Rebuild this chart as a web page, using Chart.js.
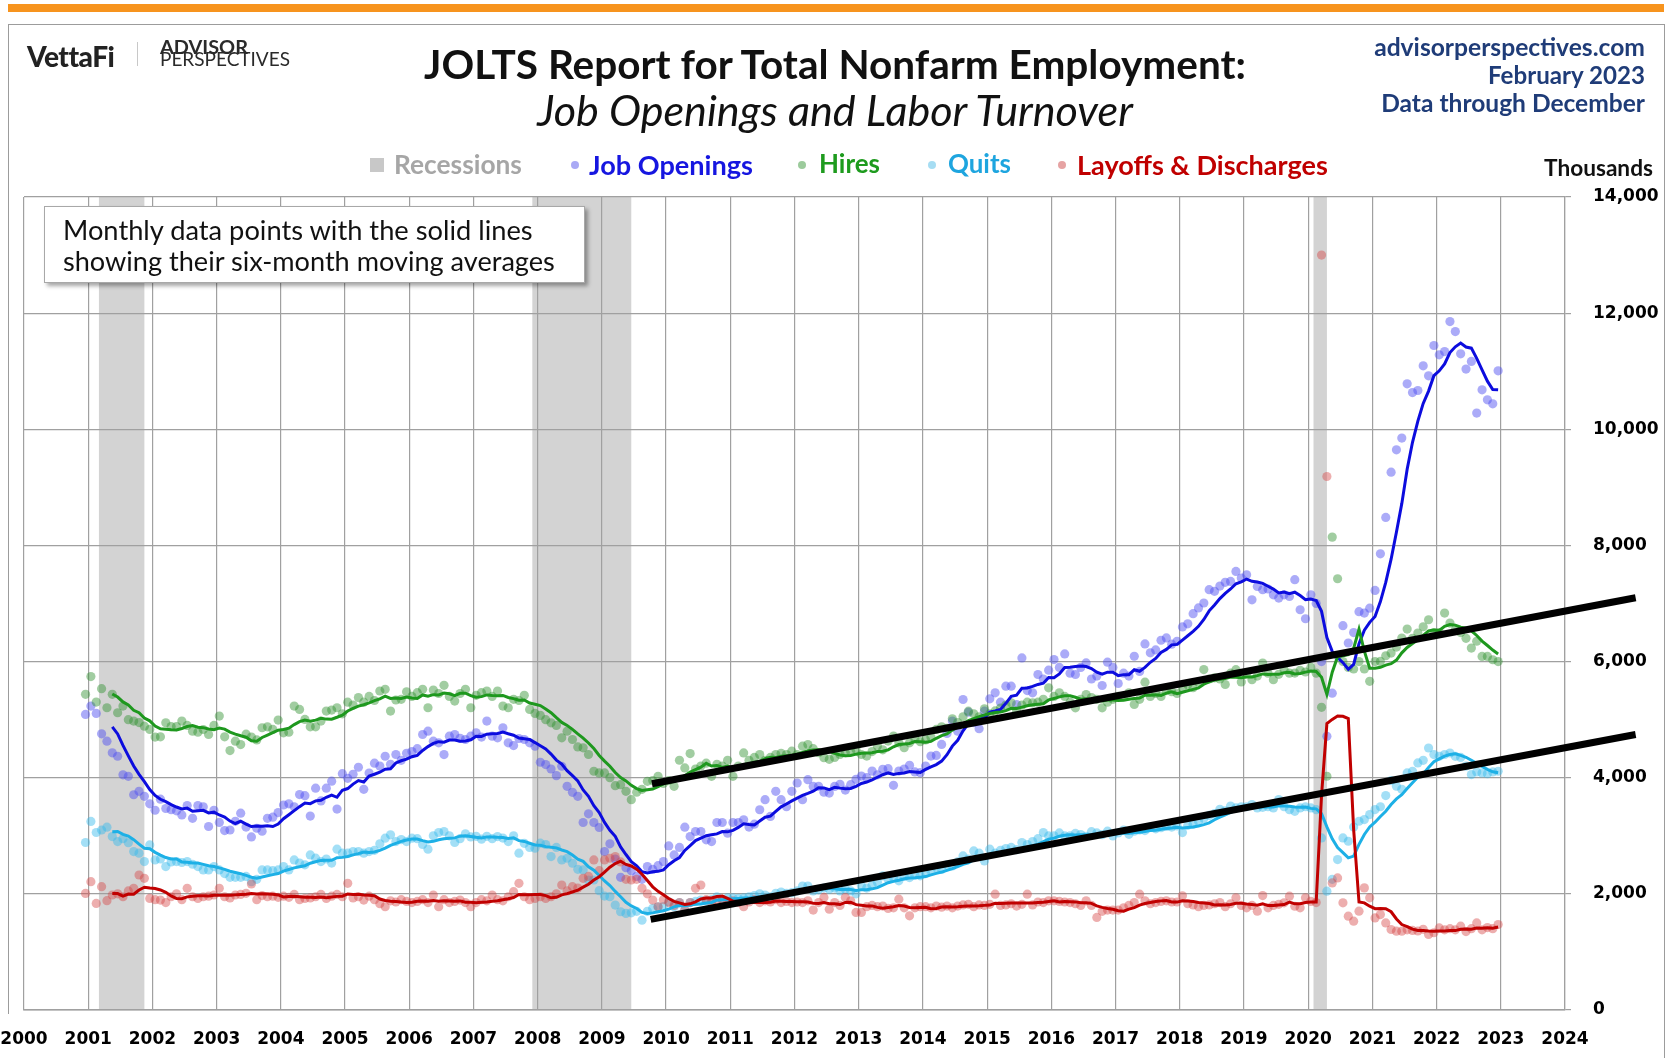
<!DOCTYPE html>
<html>
<head>
<meta charset="utf-8">
<script src="https://cdn.jsdelivr.net/npm/chart.js@4.4.1/dist/chart.umd.min.js"></script>
<style>
html,body{margin:0;padding:0;background:#fff;}
#wrap{position:relative;width:1673px;height:1058px;overflow:hidden;background:#fff;}
#c{position:absolute;left:0;top:0;}
.t{position:absolute;left:0;top:0;white-space:nowrap;line-height:1;font-family:Lato,"Open Sans",sans-serif;font-size:20px;}
</style>
</head>
<body>
<div id="wrap">
  <div style="position:absolute;left:8px;top:4px;width:1656px;height:8px;background:#F7941E"></div>
  <div style="position:absolute;left:8px;top:24px;width:1656px;height:1px;background:#9c9c9c"></div>
  <div style="position:absolute;left:8px;top:24px;width:1px;height:990px;background:#9c9c9c"></div>
  <div style="position:absolute;left:1664px;top:24px;width:1px;height:1034px;background:#9c9c9c"></div>
  <canvas id="c" width="1673" height="1058"></canvas>

  <span class="t" id="vetta" style="font-weight:900;color:#222;letter-spacing:-0.5px">VettaFi</span>
  <div style="position:absolute;left:137px;top:42px;width:1px;height:24px;background:#c8c8c8"></div>
  <span class="t" id="advisor" style="font-weight:700;color:#2a2a2a">ADVISOR</span>
  <span class="t" id="persp" style="font-weight:400;color:#2a2a2a">PERSPECTIVES</span>

  <span class="t" id="title" style="font-weight:700;color:#111">JOLTS Report for Total Nonfarm Employment:</span>
  <span class="t" id="subtitle" style="font-style:italic;color:#111">Job Openings and Labor Turnover</span>

  <span class="t" id="site" style="font-weight:700;color:#1F3C78">advisorperspectives.com</span>
  <span class="t" id="date" style="font-weight:700;color:#1F3C78">February 2023</span>
  <span class="t" id="thru" style="font-weight:700;color:#1F3C78">Data through December</span>

  <div style="position:absolute;left:370px;top:158px;width:14px;height:14px;background:#C8C8C8"></div>
  <span class="t" id="lgRec" style="font-weight:700;color:#A6A6A6">Recessions</span>
  <div style="position:absolute;left:571px;top:161px;width:8px;height:8px;border-radius:50%;background:#A9A9F5"></div>
  <span class="t" id="lgJO" style="font-weight:700;color:#1616E0">Job Openings</span>
  <div style="position:absolute;left:798px;top:161px;width:8px;height:8px;border-radius:50%;background:#9CCB9C"></div>
  <span class="t" id="lgH" style="font-weight:700;color:#1E9B1E">Hires</span>
  <div style="position:absolute;left:928px;top:161px;width:8px;height:8px;border-radius:50%;background:#A6DDF3"></div>
  <span class="t" id="lgQ" style="font-weight:700;color:#1EA5DF">Quits</span>
  <div style="position:absolute;left:1058px;top:161px;width:8px;height:8px;border-radius:50%;background:#E6A3A3"></div>
  <span class="t" id="lgL" style="font-weight:700;color:#C00000">Layoffs &amp; Discharges</span>

  <span class="t" id="thous" style="font-weight:700;color:#111">Thousands</span>

  <div style="position:absolute;left:44px;top:206px;width:541px;height:77px;box-sizing:border-box;background:#fff;border:1px solid #A8A8A8;box-shadow:3px 3px 4px rgba(0,0,0,0.35)"></div>
  <span class="t" id="note1" style="color:#111">Monthly data points with the solid lines</span>
  <span class="t" id="note2" style="color:#111">showing their six-month moving averages</span>
</div>

<script>
// ---------------- DATA (thousands) ----------------
// Monthly observations starting December 2000 and ending December 2022
const firstYear = 2000;
const firstMonth = 12;

const jobOpenings = [
  5090,
  5234,5107,4756,4629,4428,4370,4050,4024,3707,3765,3679,3550,
  3440,3630,3470,3450,3430,3360,3520,3300,3520,3500,3160,3440,
  3230,3090,3100,3250,3390,3150,2980,3130,3080,3300,3320,3400,
  3530,3550,3500,3710,3690,3340,3820,3600,3820,3940,3460,4070,
  3990,4060,4180,3800,4080,4250,4200,4370,4230,4400,4300,4420,
  4450,4500,4744,4802,4630,4600,4399,4716,4744,4680,4658,4716,
  4773,4700,4975,4716,4687,4860,4600,4554,4675,4658,4600,4543,
  4266,4226,4150,4036,4197,3852,3748,3679,3229,3379,3229,3143,
  2728,2861,2600,2285,2450,2400,2300,2250,2469,2420,2486,2555,
  2826,2670,2800,3149,2987,3074,3074,2930,2901,3229,3229,3045,
  3229,3229,3275,3150,3200,3448,3621,3333,3765,3621,3500,3765,
  3909,3621,3967,3850,3852,3750,3736,3850,3886,3788,3880,3972,
  4029,4000,4115,4050,4144,4155,3869,4115,4150,4213,4100,4087,
  4200,4373,4384,4573,4763,4975,4800,5347,5129,4950,4843,5146,
  5358,5462,5300,5576,5576,5261,6063,5500,5462,5777,5700,5851,
  6035,5900,6132,5800,5777,5900,5977,5700,5750,5588,5989,5900,
  5622,5800,5750,6092,5830,6304,6150,6200,6367,6407,6300,6350,
  6596,6650,6825,6923,7009,7238,7209,7300,7364,7380,7552,7437,
  7495,7064,7294,7237,7250,7150,7093,7150,7122,7410,6892,6737,
  7150,7000,6000,4713,5455,6100,6618,6320,6500,6860,6835,6920,
  7225,7856,8482,9262,9647,9848,10783,10633,10668,11093,10921,11443,
  11283,11339,11855,11683,11300,11037,11168,10279,10680,10508,10439,11007
];

const hires = [
  5436,
  5741,5303,5533,5205,5436,5119,5234,5000,4975,4950,4888,4831,
  4700,4704,4946,4880,4880,4975,4900,4802,4785,4830,4744,4900,
  5061,4704,4468,4629,4571,4750,4700,4650,4860,4877,4831,4992,
  4773,4785,5234,5176,5003,4877,4877,4975,5147,5165,5205,5100,
  5300,5250,5380,5300,5400,5330,5493,5522,5147,5338,5350,5480,
  5400,5464,5522,5205,5510,5450,5591,5400,5320,5450,5522,5205,
  5418,5464,5493,5400,5493,5234,5205,5350,5330,5418,5176,5107,
  5073,5000,4946,4900,4687,4800,4658,4531,4514,4400,4111,4082,
  4082,4000,3863,3880,3765,3621,3750,3800,3938,3950,4024,3900,
  3950,3852,4301,4168,4416,4150,4200,4250,4024,4230,4200,4300,
  4024,4200,4427,4300,4350,4399,4300,4350,4400,4420,4400,4457,
  4400,4543,4571,4500,4430,4344,4316,4350,4401,4430,4450,4487,
  4400,4373,4450,4545,4480,4631,4717,4600,4516,4600,4671,4620,
  4650,4700,4831,4877,4850,5015,4950,5050,5146,5100,5050,5186,
  5100,5150,5200,5250,5290,5150,5250,5300,5290,5301,5350,5548,
  5400,5462,5400,5300,5204,5350,5433,5380,5350,5204,5300,5350,
  5400,5400,5462,5261,5350,5645,5400,5450,5400,5500,5480,5450,
  5550,5600,5550,5650,5863,5700,5720,5700,5605,5800,5861,5650,
  5800,5687,5750,5974,5800,5687,5780,5859,5800,5802,5850,5820,
  5900,5800,5212,4025,8143,7426,6000,5900,5872,6000,5872,5660,
  6000,6003,6100,6146,6250,6404,6559,6400,6490,6600,6720,6500,
  6500,6835,6663,6550,6500,6400,6232,6350,6089,6089,6031,6000
];

const quits = [
  2884,
  3247,3057,3100,3149,2987,2901,2950,2880,2728,2700,2556,2843,
  2584,2600,2469,2550,2556,2540,2556,2510,2470,2412,2412,2469,
  2412,2350,2285,2285,2285,2300,2210,2250,2412,2412,2400,2412,
  2469,2412,2584,2530,2500,2671,2614,2556,2600,2530,2769,2700,
  2700,2728,2728,2700,2728,2750,2861,2959,3016,2900,2935,2901,
  2959,2950,2850,2769,2999,3057,3074,3000,2884,2950,3034,2980,
  2990,2941,2990,2950,2987,2960,2900,2999,2700,2870,2800,2786,
  2872,2850,2642,2800,2584,2613,2527,2423,2412,2239,2239,2055,
  1962,1951,1807,1692,1663,1674,1700,1547,1700,1750,1778,1780,
  1864,1780,1850,1720,1850,1870,1893,1880,1900,1950,1900,1930,
  1930,1922,1930,1950,1970,2000,1980,1950,2010,2030,2008,2020,
  2050,2135,2135,2050,2070,2100,2080,2100,2050,2080,2050,2000,
  2138,2100,2150,2200,2310,2250,2280,2224,2300,2280,2320,2310,
  2350,2400,2453,2420,2500,2480,2550,2654,2600,2740,2700,2568,
  2769,2700,2750,2780,2800,2760,2883,2850,2900,2950,3055,2998,
  3000,3050,2998,3000,3040,3020,2990,3070,3050,3020,3080,2998,
  3050,3100,3026,3080,3100,3090,3150,3120,3140,3160,3150,3170,
  3055,3180,3200,3250,3296,3350,3380,3456,3430,3513,3480,3500,
  3500,3537,3480,3490,3500,3480,3623,3500,3450,3422,3480,3500,
  3480,3450,2963,2046,2250,2590,2963,2906,3150,3250,3279,3365,
  3451,3500,3692,3950,3853,3800,4082,4111,4254,4300,4512,4398,
  4369,4400,4426,4369,4350,4200,4054,4100,4082,4070,4100,4111
];

const layoffs = [
  2008,
  2210,1836,2124,1882,1980,2000,1950,2050,2095,2325,2268,1922,
  1900,1893,1850,1950,2000,1900,2095,1950,1920,1950,1960,1980,
  2095,1950,1930,1980,1990,2010,2170,1900,1970,1950,1960,1940,
  1960,1940,1990,1900,1920,1930,1950,1990,1920,1960,1990,1950,
  2181,1930,1950,1893,1960,1900,1830,1778,1880,1860,1900,1870,
  1850,1870,1900,1850,1980,1778,1900,1850,1870,1893,1850,1778,
  1850,1900,1880,1980,1900,1880,1950,2037,2181,1950,1900,1922,
  1950,1920,1950,2000,2152,2050,2124,2100,2268,2300,2584,2400,
  2584,2613,2642,2550,2250,2239,2250,2095,2000,1893,1778,1900,
  1850,1800,1850,1720,1850,2095,2152,1900,1850,1880,1900,1850,
  1880,1850,1778,1860,1900,1850,1880,1860,1900,1850,1870,1850,
  1860,1850,1880,1720,1850,1938,1737,1850,1800,1938,1880,1680,
  1680,1780,1800,1780,1790,1750,1760,1909,1760,1622,1760,1780,
  1780,1760,1790,1770,1790,1760,1790,1810,1820,1780,1810,1800,
  1820,1995,1800,1810,1830,1790,1820,1995,1810,1860,1850,1880,
  1880,1870,1860,1850,1830,1800,1880,1800,1594,1700,1720,1720,
  1720,1760,1800,1850,1995,1880,1830,1850,1870,1880,1860,1860,
  1966,1830,1810,1780,1800,1810,1830,1850,1780,1830,1931,1800,
  1760,1800,1701,1971,1759,1800,1820,1845,1960,1787,1759,1931,
  1870,1850,13000,9187,2189,2275,1845,1615,1529,1701,2103,1931,
  1586,1644,1500,1386,1357,1357,1380,1370,1360,1390,1300,1330,
  1414,1380,1400,1380,1443,1350,1400,1500,1380,1420,1400,1472
];

// NBER recessions (decimal years)
const recessionStarts = [2001.167, 2007.917, 2020.083];
const recessionEnds   = [2001.875, 2009.458, 2020.292];

// Hand-drawn trend lines in the original (decimal year, thousands)
const trendUpperX = [2009.78, 2025.10];
const trendUpperY = [3895, 7100];
const trendLowerX = [2009.76, 2025.10];
const trendLowerY = [1560, 4745];

const maWindow = 6;

// ---------------- BUILD ----------------
function monthX(i) {
  const idx = firstMonth - 1 + i;
  const y = firstYear + Math.floor(idx / 12);
  const m = idx % 12;
  return y + (m + 0.5) / 12;
}
function toPoints(arr) { return arr.map((v, i) => ({x: monthX(i), y: v})); }
function movingAvg(arr) {
  return arr.map((v, i) => {
    if (i < maWindow - 1) return {x: monthX(i), y: null};
    let s = 0;
    for (let k = i - maWindow + 1; k <= i; k++) s += arr[k];
    return {x: monthX(i), y: s / maWindow};
  });
}
function pair(xs, ys) { return xs.map((x, i) => ({x: x, y: ys[i]})); }

const series = [
  {name: 'Job Openings', data: jobOpenings, dot: 'rgba(80,80,240,0.48)', line: '#0C0CDE'},
  {name: 'Hires', data: hires, dot: 'rgba(50,145,50,0.46)', line: '#1E981E'},
  {name: 'Quits', data: quits, dot: 'rgba(55,185,235,0.46)', line: '#1DB0E6'},
  {name: 'Layoffs & Discharges', data: layoffs, dot: 'rgba(215,70,70,0.44)', line: '#C00000'}
];

const datasets = [];
datasets.push({label: 'trendU', data: pair(trendUpperX, trendUpperY), borderColor: '#000', borderWidth: 7,
  pointRadius: 0, clip: false, order: 0, borderCapStyle: 'butt'});
datasets.push({label: 'trendL', data: pair(trendLowerX, trendLowerY), borderColor: '#000', borderWidth: 7,
  pointRadius: 0, clip: false, order: 0, borderCapStyle: 'butt'});
series.forEach((s, k) => {
  datasets.push({label: s.name + ' MA', data: movingAvg(s.data), borderColor: s.line, borderWidth: 3,
    pointRadius: 0, spanGaps: false, order: 4 - k});
});
series.forEach((s, k) => {
  datasets.push({label: s.name, data: toPoints(s.data), showLine: false, pointRadius: 4.6,
    pointBackgroundColor: s.dot, pointBorderWidth: 0, pointBorderColor: 'rgba(0,0,0,0)', order: 20 - k});
});

const recessionPlugin = {
  id: 'recessions',
  beforeDraw(chart) {
    const {ctx, chartArea, scales} = chart;
    const x = scales.x;
    ctx.save();
    ctx.fillStyle = '#D3D3D3';
    recessionStarts.forEach((s, i) => {
      const x0 = x.getPixelForValue(s), x1 = x.getPixelForValue(recessionEnds[i]);
      ctx.fillRect(x0, chartArea.top, x1 - x0, chartArea.bottom - chartArea.top);
    });
    ctx.restore();
  }
};

const tickFont = {family: 'DejaVu Sans', weight: 'bold', size: 17};
new Chart(document.getElementById('c'), {
  type: 'line',
  data: {datasets: datasets},
  options: {
    responsive: false,
    animation: false,
    devicePixelRatio: 1,
    layout: {padding: {left: 24, top: 197, right: 0, bottom: 8}},
    plugins: {legend: {display: false}, tooltip: {enabled: false}},
    elements: {line: {tension: 0}},
    scales: {
      x: {
        type: 'linear', min: 2000, max: 2024,
        ticks: {stepSize: 1, autoSkip: false, maxRotation: 0, color: '#000', font: tickFont, padding: 19,
          callback: v => String(v)},
        grid: {color: '#A0A0A0', lineWidth: 1.2, drawTicks: false},
        border: {color: '#A0A0A0', width: 1.5},
        afterFit: s => { s.height = 40; s.paddingLeft = 0; s.paddingRight = 0; }
      },
      y: {
        position: 'right', min: 0, max: 14000,
        ticks: {stepSize: 2000, color: '#000', font: tickFont, padding: 22,
          callback: v => v.toLocaleString('en-US')},
        grid: {color: '#A0A0A0', lineWidth: 1.2, tickLength: 6},
        border: {color: '#A0A0A0', width: 1.2},
        afterFit: s => { s.width = 108; s.paddingTop = 0; s.paddingBottom = 0; }
      }
    }
  },
  plugins: [recessionPlugin]
});

// ---------------- TEXT LAYOUT ----------------
function place(id, o) {
  const el = document.getElementById(id);
  const fs0 = parseFloat(getComputedStyle(el).fontSize);
  const w0 = el.getBoundingClientRect().width;
  const fs = fs0 * o.w / w0;
  el.style.fontSize = fs + 'px';
  const w = el.getBoundingClientRect().width;
  el.style.top = (o.cy - fs * 0.53) + 'px';
  if (o.left !== undefined) el.style.left = o.left + 'px';
  else if (o.right !== undefined) el.style.left = (o.right - w) + 'px';
  else el.style.left = (o.cx - w / 2) + 'px';
}
place('vetta', {left: 27, cy: 57, w: 86});
place('advisor', {left: 160, cy: 47.5, w: 88});
place('persp', {left: 160, cy: 59.5, w: 130});
place('title', {cx: 835, cy: 65, w: 822});
place('subtitle', {cx: 835, cy: 111, w: 596});
place('site', {right: 1645, cy: 48, w: 271});
place('date', {right: 1645, cy: 76, w: 157});
place('thru', {right: 1645, cy: 104, w: 264});
place('lgRec', {left: 394, cy: 165, w: 128});
place('lgJO', {left: 589, cy: 165, w: 164});
place('lgH', {left: 819, cy: 165, w: 61});
place('lgQ', {left: 948, cy: 165, w: 63});
place('lgL', {left: 1077, cy: 165, w: 251});
place('thous', {left: 1544, cy: 169, w: 109});
place('note1', {left: 63, cy: 230, w: 470});
place('note2', {left: 63, cy: 261, w: 492});
</script>
</body>
</html>
